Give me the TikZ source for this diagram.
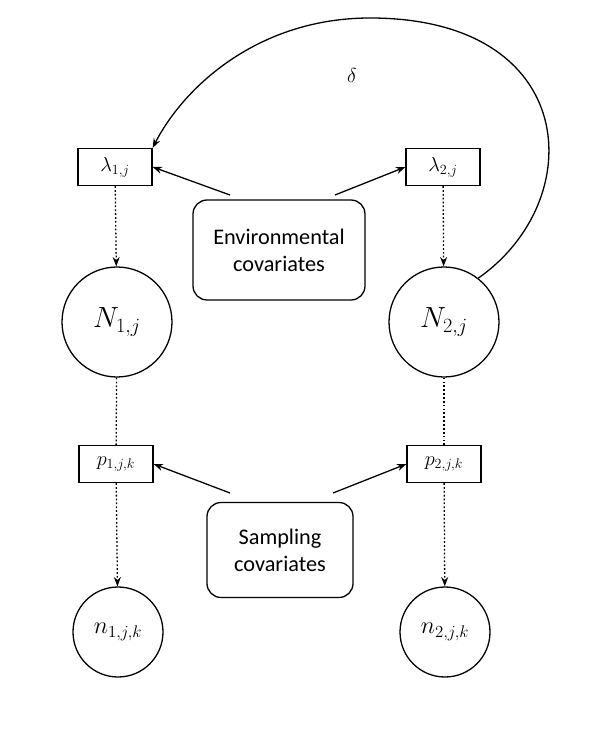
\documentclass[tikz,border=0pt]{standalone}
\usepackage{fontspec}
\setmainfont{Carlito}
\usetikzlibrary{arrows.meta}
\begin{document}
\begin{tikzpicture}[x=0.03cm,y=-0.03cm,line width=1.1pt,
  par/.style={draw,minimum width=74*0.03cm,minimum height=37*0.03cm,inner sep=0pt,font=\fontsize{17}{20}\selectfont},
  big/.style={draw,circle,minimum size=110*0.03cm,inner sep=0pt,font=\fontsize{26}{30}\selectfont},
  small/.style={draw,circle,minimum size=90*0.03cm,inner sep=0pt,font=\fontsize{20}{24}\selectfont},
  cov/.style={draw,rounded corners=12pt,align=center,font=\fontsize{19}{23}\selectfont},
  arr/.style={-{Stealth[length=8pt]}},
  dot/.style={dash pattern=on 1.5pt off 1.8pt}]
\useasboundingbox (0,0) rectangle (612,735);
\node[par] (l1) at (115,167) {$\lambda_{1,j}$};
\node[par] (l2) at (443,167) {$\lambda_{2,j}$};
\node[cov,minimum width=172*0.03cm,minimum height=100*0.03cm] (env) at (279,250) {Environmental\\covariates};
\node[big] (N1) at (117,322) {$N_{1,j}$};
\node[big] (N2) at (444,322) {$N_{2,j}$};
\node[par] (p1) at (116,464) {$p_{1,j,k}$};
\node[par] (p2) at (444,464) {$p_{2,j,k}$};
\node[cov,minimum width=146*0.03cm,minimum height=95*0.03cm] (samp) at (280,550) {Sampling\\covariates};
\node[small] (n1) at (118,632) {$n_{1,j,k}$};
\node[small] (n2) at (445,632) {$n_{2,j,k}$};
\coordinate (e1) at (230,195); \coordinate (e2) at (335,195);
\coordinate (s1) at (230,493); \coordinate (s2) at (333,493);
\draw[arr] (e1) -- (l1.east);
\draw[arr] (e2) -- (l2.west);
\draw[arr] (s1) -- (p1.east);
\draw[arr] (s2) -- (p2.west);
\draw[dot,-{Stealth[length=8pt]}] (l1) -- (N1);
\draw[dot,-{Stealth[length=8pt]}] (l2) -- (N2);
\draw[dot] (N1) -- (p1);
\draw[dot] (N2) -- (p2);
\draw[dot,-{Stealth[length=8pt]}] (p1) -- (n1);
\draw[dot,-{Stealth[length=8pt]}] (p2) -- (n2);
\draw[arr] (N2.52) .. controls (590,200) and (580,18) .. (370,18) .. controls (260,18) and (185,85) .. (l1.north east);
\node[font=\fontsize{19}{23}\selectfont] (d) at (352,75) {$\delta$};
\end{tikzpicture}
\end{document}
